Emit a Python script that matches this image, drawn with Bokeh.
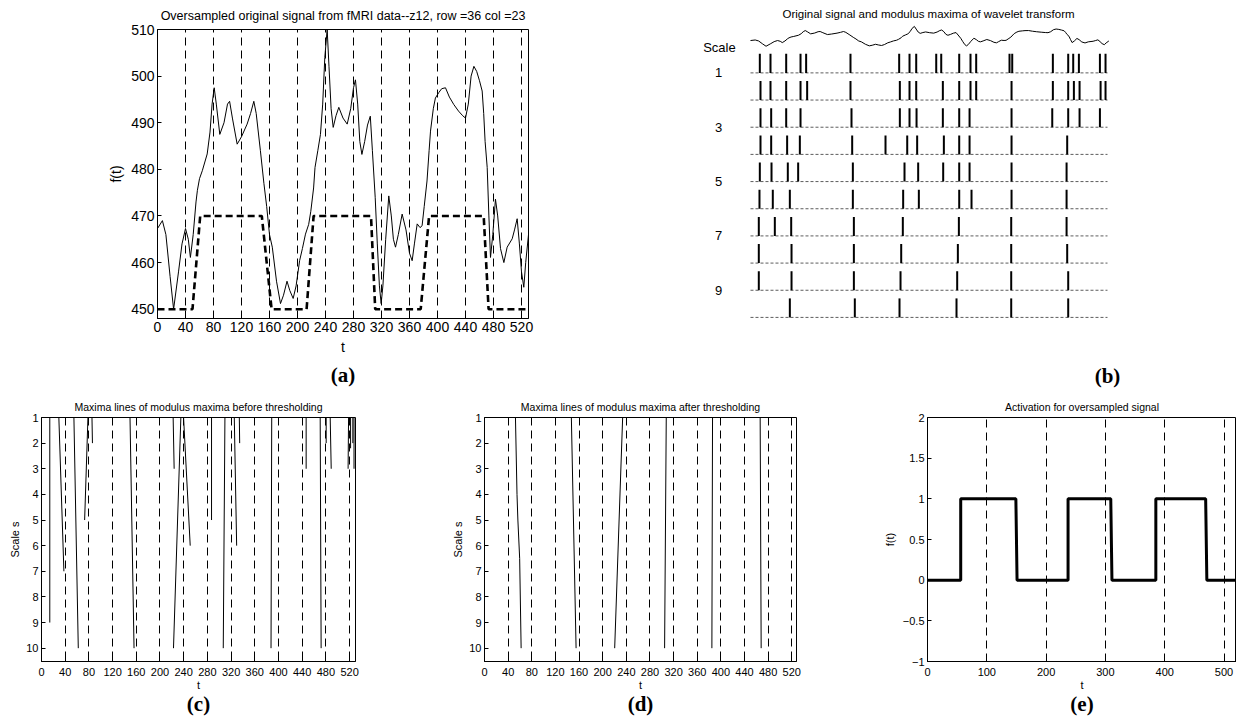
from bokeh.plotting import figure
from bokeh.layouts import column, row
from bokeh.models import Range1d, FixedTicker, Title
from bokeh.core.properties import value
from bokeh.embed import file_html
from bokeh.resources import INLINE

FONT = "Liberation Sans"
SERIF = "Liberation Serif"

# ---------------- data ----------------
# (a) oversampled fMRI signal
sig_t = [0, 7, 12, 18, 23, 30, 35, 40, 44, 47, 51, 55, 57, 60, 64, 71, 75, 78, 81, 84, 89, 95, 100, 103,
         107, 113.8, 120, 128, 133, 137.6, 141, 147, 152, 156, 160, 164, 170, 175.7, 180, 185, 189, 193.8,
         198, 203, 207, 211.4, 216, 219, 223, 225, 229, 232.8, 236, 239, 242.4, 245, 248, 251, 255, 259,
         265, 271, 276, 280, 282.8, 286, 289, 292, 296, 300, 304, 307, 311, 314, 317, 319.5, 322, 326,
         330.4, 334, 337, 340, 344, 349.5, 355, 360, 363.8, 367, 371, 375, 378, 381, 385, 388, 390, 394,
         397, 402, 406, 411.4, 417, 423.3, 430, 436, 440, 444, 448, 452, 456, 460, 463.8, 466, 468, 471,
         473.4, 475.7, 479, 482.8, 486, 490, 494.8, 499.5, 506.7, 510, 513.8, 517, 520, 523.3, 526, 530]
sig_f = [467.3, 469, 466, 457, 450, 458, 464, 467.3, 465, 461.1, 466, 473, 475.5, 478, 479.7, 483.3, 488,
         494, 497.5, 494, 487.5, 490, 494, 494.6, 491, 485.4, 487, 489.7, 492, 494.6, 492, 484, 477, 472,
         466, 463.3, 456, 451.2, 453, 456, 454, 452.3, 455, 460.4, 463, 466.1, 468.2, 471, 476, 480.4,
         484, 487.5, 494, 504, 510, 502, 493, 489, 491.5, 493.3, 491, 489.7, 493, 497.5, 499.2, 494, 486,
         483.2, 486, 489.5, 491.4, 484, 474, 464, 455, 451.2, 455, 465, 474.3, 470, 465, 463.3, 466,
         470.4, 467, 462, 460.4, 464, 468.3, 467.5, 467.9, 472, 477.5, 484, 488.2, 493, 495.3, 496.5,
         497.3, 497.5, 495.5, 493.9, 492.5, 491.5, 491, 494, 500, 502.1, 501, 499, 496.8, 492, 486, 480.4,
         470, 461.1, 466, 473.6, 470, 463, 460, 463.3, 465.1, 467, 469.4, 464, 458, 454.7, 460, 466]

# (a) scaled activation model (dashed)
model_t = [0, 50, 61, 149, 163, 213, 223, 305, 311, 376, 388, 466, 473, 530]
model_f = [450, 450, 470, 470, 450, 450, 470, 470, 450, 450, 470, 470, 450, 450]

# (b) modulus maxima positions for scales 1..10
maxima = [
    [13.8, 29.6, 52.8, 74.0, 82.3, 147.9, 219.9, 235.2, 245.1, 274.7, 282.1, 308.7, 325.4, 333.8, 383.1,
     387.1, 447.2, 469.9, 477.3, 485.7, 516.8, 525.1],
    [14.8, 29.6, 52.8, 74.0, 83.8, 147.9, 220.9, 235.2, 245.1, 284.5, 308.7, 325.4, 333.8, 386.1, 447.2,
     469.9, 478.3, 486.7, 517.8, 525.1],
    [14.8, 30.6, 52.8, 74.0, 149.4, 220.9, 235.2, 245.6, 284.5, 308.7, 324.0, 386.1, 446.3, 469.9, 486.7,
     516.8],
    [14.8, 30.6, 54.2, 73.0, 150.4, 199.7, 231.8, 246.5, 286.0, 308.7, 324.0, 386.1, 468.4],
    [13.8, 31.1, 55.2, 70.5, 151.4, 227.8, 248.0, 285.0, 308.7, 324.0, 386.1, 467.5],
    [13.3, 33.0, 58.2, 151.4, 225.8, 249.0, 308.7, 326.9, 386.1, 467.5],
    [12.3, 36.0, 60.2, 152.9, 225.3, 308.2, 385.6, 467.5],
    [12.3, 60.7, 152.9, 222.9, 306.7, 385.6, 468.4],
    [12.3, 60.7, 152.9, 221.9, 305.7, 385.6, 469.9],
    [58.2, 154.3, 220.4, 304.7, 385.6, 469.9],
]
scale_labels = ["1", "3", "5", "7", "9"]
scale_label_rows = [1, 3, 5, 7, 9]

# (c) maxima lines before thresholding: (t list, scale list)
c_lines_t = [[14, 14], [29.3, 37.8], [54.7, 62.1], [78.4, 72.8], [85.2, 86], [149.4, 156.2],
             [222.2, 223.9], [235.2, 222.8], [239.8, 251], [287, 287], [309.6, 306.8], [325.4, 329.4],
             [333.9, 334.5], [388.6, 387.4], [446.7, 446.7], [470.4, 472], [480.5, 480.5], [487.3, 489],
             [518.3, 517.5], [521.7, 521.7], [525.5, 525.5], [527.5, 527.5]]
c_lines_s = [[1, 9], [1, 7], [1, 10], [1, 5], [1, 2], [1, 10], [1, 3], [1, 10], [1, 6], [1, 5], [1, 10],
             [1, 6], [1, 2], [1, 10], [1, 3], [1, 10], [1, 2], [1, 3], [1, 3], [1, 2.2], [1, 2], [1, 3]]

# (d) maxima lines after thresholding
d_lines_t = [[52.4, 55, 56.5, 59.5, 62], [147, 155], [233.8, 220.3], [307.6, 304.8], [385.9, 384.8],
             [466.5, 468.2]]
d_lines_s = [[1, 4, 5, 6.5, 10], [1, 10], [1, 10], [1, 10], [1, 10], [1, 10]]

# (e) activation
act_t = [0, 56, 56, 149, 151, 237, 237, 309, 311, 385, 385, 469, 471, 530]
act_f = [0, 0, 1, 1, 0, 0, 1, 1, 0, 0, 1, 1, 0, 0]

ticks_a = list(range(0, 521, 40))
yticks_a = list(range(450, 511, 10))
ticks_s = list(range(1, 11))
ticks_e = [0, 100, 200, 300, 400, 500]
yticks_e = [-1, -0.5, 0, 0.5, 1, 1.5, 2]


def base_fig(w, h, xr, yr, left, right, top, bottom):
    p = figure(width=w, height=h, x_range=xr, y_range=yr, output_backend="svg",
               toolbar_location=None, min_border_left=left, min_border_right=right,
               min_border_top=top, min_border_bottom=bottom)
    p.frame_align = False
    p.background_fill_color = "white"
    p.border_fill_color = "white"
    p.outline_line_color = "black"
    p.outline_line_alpha = 1
    p.outline_line_width = 1
    return p


def style(p, xt, yt, tick_fs, label_fs, xlab, ylab):
    p.xaxis.ticker = FixedTicker(ticks=xt)
    p.yaxis.ticker = FixedTicker(ticks=yt)
    p.xaxis.axis_label = xlab
    p.yaxis.axis_label = ylab
    for ax in p.axis:
        ax.major_tick_in = 4
        ax.major_tick_out = 0
        ax.minor_tick_in = 0
        ax.minor_tick_out = 0
        ax.axis_line_color = "black"
        ax.major_tick_line_color = "black"
        ax.major_label_text_font = FONT
        ax.major_label_text_color = "black"
        ax.major_label_text_font_size = tick_fs
        ax.axis_label_text_font = FONT
        ax.axis_label_text_font_style = "normal"
        ax.axis_label_text_color = "black"
        ax.axis_label_text_font_size = label_fs
    p.xaxis.major_label_standoff = 3
    p.yaxis.major_label_standoff = 3
    p.xgrid.ticker = FixedTicker(ticks=xt)
    p.xgrid.grid_line_color = "black"
    p.xgrid.grid_line_dash = "8 5"
    p.xgrid.grid_line_width = 1
    p.ygrid.visible = False


def set_title(p, text, fs, standoff):
    p.title.text = text
    p.title.align = "center"
    p.title.text_font = FONT
    p.title.text_font_size = fs
    p.title.text_font_style = "normal"
    p.title.text_color = "black"
    p.title.standoff = standoff


def add_letter(p, text, standoff):
    t = Title(text=text, align="center", text_font=SERIF, text_font_size="21px",
              text_font_style="bold", text_color="black", standoff=standoff)
    p.add_layout(t, "below")


# ---------------- (a) ----------------
pa = base_fig(608, 393, Range1d(0, 530), Range1d(448, 510), 157, 80, 28, 75)
style(pa, ticks_a, yticks_a, "14px", "14px", "t", "f(t)")
pa.xaxis.axis_label_standoff = 4
pa.yaxis.axis_label_standoff = 4
set_title(pa, "Oversampled original signal from fMRI data--z12, row =36 col =23", "12.5px", 13)
add_letter(pa, "(a)", 6)
pa.line(sig_t, sig_f, line_color="black", line_width=1, line_join="round")
pa.line(model_t, model_f, line_color="black", line_width=2.6, line_dash="7 4")

# ---------------- (b) ----------------
pb = figure(width=628, height=393, x_range=Range1d(-210, 718.8), y_range=Range1d(-1.80, 12.664),
            output_backend="svg", toolbar_location=None, min_border=0, title=None,
            x_axis_location=None, y_axis_location=None)
pb.frame_align = False
pb.min_border_left = 0
pb.min_border_right = 0
pb.min_border_top = 0
pb.min_border_bottom = 0
pb.grid.visible = False
pb.outline_line_color = None
pb.background_fill_color = "white"
pb.border_fill_color = "white"

# top signal (scaled copy of the same data)
sig_b_y = [10.98 + (f - 450) * 0.01217 for f in sig_f]
pb.line(sig_t, sig_b_y, line_color="black", line_width=1, line_join="round")

for r, pos in enumerate(maxima, start=1):
    base = 11 - r
    pb.line([0, 528], [base, base], line_color="#333333", line_width=0.8, line_dash="3 2")
    pb.segment(x0=pos, y0=[base] * len(pos), x1=pos, y1=[base + 0.7] * len(pos),
               line_color="black", line_width=2)

pb.text(x=[-46], y=[10.95], text=["Scale"], text_font=value(FONT), text_font_size="13px",
        text_align="center", text_baseline="middle", text_color="black")
pb.text(x=[-47] * len(scale_labels), y=[11 - r for r in scale_label_rows], text=scale_labels,
        text_font=value(FONT), text_font_size="13px", text_align="center", text_baseline="middle",
        text_color="black")
pb.text(x=[263.3], y=[12.15], text=["Original signal and modulus maxima of wavelet transform"],
        text_font=value(FONT), text_font_size="11.5px", text_align="center", text_baseline="middle",
        text_color="black")
pb.text(x=[528], y=[-1.17], text=["(b)"], text_font=value(SERIF), text_font_size="21px",
        text_font_style="bold", text_align="center", text_baseline="middle", text_color="black")

# ---------------- (c) ----------------
pc = base_fig(428, 328, Range1d(0, 530), Range1d(10.52, 1), 41, 73, 23, 60)
style(pc, ticks_a, ticks_s, "11px", "11px", "t", "Scale s")
pc.xaxis.major_label_standoff = 6
pc.xaxis.axis_label_standoff = 0
pc.yaxis.axis_label_standoff = 2
set_title(pc, "Maxima lines of modulus maxima before thresholding", "10.5px", 10)
add_letter(pc, "(c)", -8)
pc.multi_line(c_lines_t, c_lines_s, line_color="black", line_width=1)

# ---------------- (d) ----------------
pd_ = base_fig(420, 328, Range1d(0, 528), Range1d(10.52, 1), 56, 52, 23, 60)
style(pd_, ticks_a, ticks_s, "11px", "11px", "t", "Scale s")
pd_.xaxis.major_label_standoff = 6
pd_.xaxis.axis_label_standoff = 0
pd_.yaxis.axis_label_standoff = 2
set_title(pd_, "Maxima lines of modulus maxima after thresholding", "10.5px", 10)
add_letter(pd_, "(d)", -8)
pd_.multi_line(d_lines_t, d_lines_s, line_color="black", line_width=1)

# ---------------- (e) ----------------
pe = base_fig(388, 328, Range1d(0, 521), Range1d(-1, 2), 79, 0, 23, 60)
style(pe, ticks_e, yticks_e, "11px", "11px", "t", "f(t)")
pe.xaxis.major_label_standoff = 6
pe.xaxis.axis_label_standoff = 0
pe.yaxis.axis_label_standoff = 4
set_title(pe, "Activation for oversampled signal", "10.5px", 10)
add_letter(pe, "(e)", -8)
pe.line(act_t, act_f, line_color="black", line_width=3)

layout = column(row(pa, pb), row(pc, pd_, pe))

with open("out.html", "w") as fh:
    fh.write(file_html(layout, INLINE))
